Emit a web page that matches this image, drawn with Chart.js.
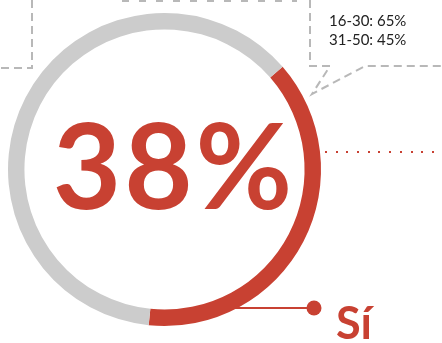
<!DOCTYPE html>
<html lang="es">
<head>
<meta charset="utf-8">
<script src="https://cdn.jsdelivr.net/npm/chart.js@4/dist/chart.umd.min.js"></script>
<style>
    body { margin: 0; background: #fff; }
    #wrap { position: relative; width: 442px; height: 343px; overflow: hidden; }
    #ring { position: absolute; left: 0; top: 0; }
    #bigPct {
        position: absolute; left: 0; width: 348px; top: 105px;
        text-align: center; font-family: Lato, sans-serif; font-weight: 700;
        font-size: 118px; line-height: 1; letter-spacing: 3px; color: #c84132;
    }
    #siLabel {
        position: absolute; left: 336px; top: 300px;
        font-family: Lato, sans-serif; font-weight: 700;
        font-size: 45px; line-height: 1; color: #c84132;
    }
</style>
</head>
<body>
<div id="wrap">
    <canvas id="ring" width="442" height="343"></canvas>
    <div id="bigPct"></div>
    <div id="siLabel"></div>
</div>

<script>
// respuestas
const categories = ['Sí', 'No'];
const shares = [38, 62];

// desglose por edad
const ageGroups = ['16-30', '31-50'];
const ageShares = [65, 45];

const RED = '#c84132';
const GREY = '#cccccc';
const DASH = '#b8b8b8';

document.getElementById('bigPct').textContent = shares[0] + '%';
document.getElementById('siLabel').textContent = categories[0];

// cajas punteadas, línea de puntos y etiqueta
const decorations = {
    id: 'decorations',
    afterDraw(chart) {
        const ctx = chart.ctx;
        ctx.save();

        // cajas
        ctx.strokeStyle = DASH;
        ctx.lineWidth = 2;
        ctx.setLineDash([8, 5]);
        ctx.beginPath();
        ctx.moveTo(32, 0); ctx.lineTo(32, 68); ctx.lineTo(0, 68);
        ctx.moveTo(310, 0); ctx.lineTo(310, 66); ctx.lineTo(330, 66);
        ctx.lineTo(312, 94); ctx.lineTo(365, 66); ctx.lineTo(442, 66);
        ctx.stroke();

        // restos del título de arriba
        ctx.setLineDash([7, 10]);
        ctx.beginPath();
        ctx.moveTo(122, 1); ctx.lineTo(297, 1);
        ctx.stroke();
        ctx.setLineDash([]);

        // texto de la caja derecha
        ctx.fillStyle = '#222';
        ctx.font = '15px Lato, sans-serif';
        ctx.textBaseline = 'alphabetic';
        ageGroups.forEach((g, i) => {
            ctx.fillText(g + ': ' + ageShares[i] + '%', 329, 26 + i * 19);
        });

        // línea de puntos hacia la derecha
        ctx.fillStyle = RED;
        for (let x = 325; x < 442; x += 10.7) {
            ctx.fillRect(Math.round(x), 151, 2, 2);
        }

        // conector de la etiqueta
        ctx.strokeStyle = RED;
        ctx.lineWidth = 2;
        ctx.beginPath();
        ctx.moveTo(233, 308); ctx.lineTo(313, 308);
        ctx.stroke();
        ctx.beginPath();
        ctx.arc(314, 308, 7.5, 0, Math.PI * 2);
        ctx.fill();

        ctx.restore();
    }
};

new Chart(document.getElementById('ring'), {
    type: 'doughnut',
    data: {
        labels: categories,
        datasets: [{
            data: shares,
            backgroundColor: [RED, GREY],
            borderWidth: 0,
            hoverOffset: 0
        }]
    },
    options: {
        responsive: false,
        animation: false,
        devicePixelRatio: 1,
        rotation: 49,
        cutout: '89.5%',
        layout: { padding: { left: 8, top: 13, right: 121, bottom: 17 } },
        plugins: {
            legend: { display: false },
            tooltip: { enabled: false }
        }
    },
    plugins: [decorations]
});
</script>
</body>
</html>
